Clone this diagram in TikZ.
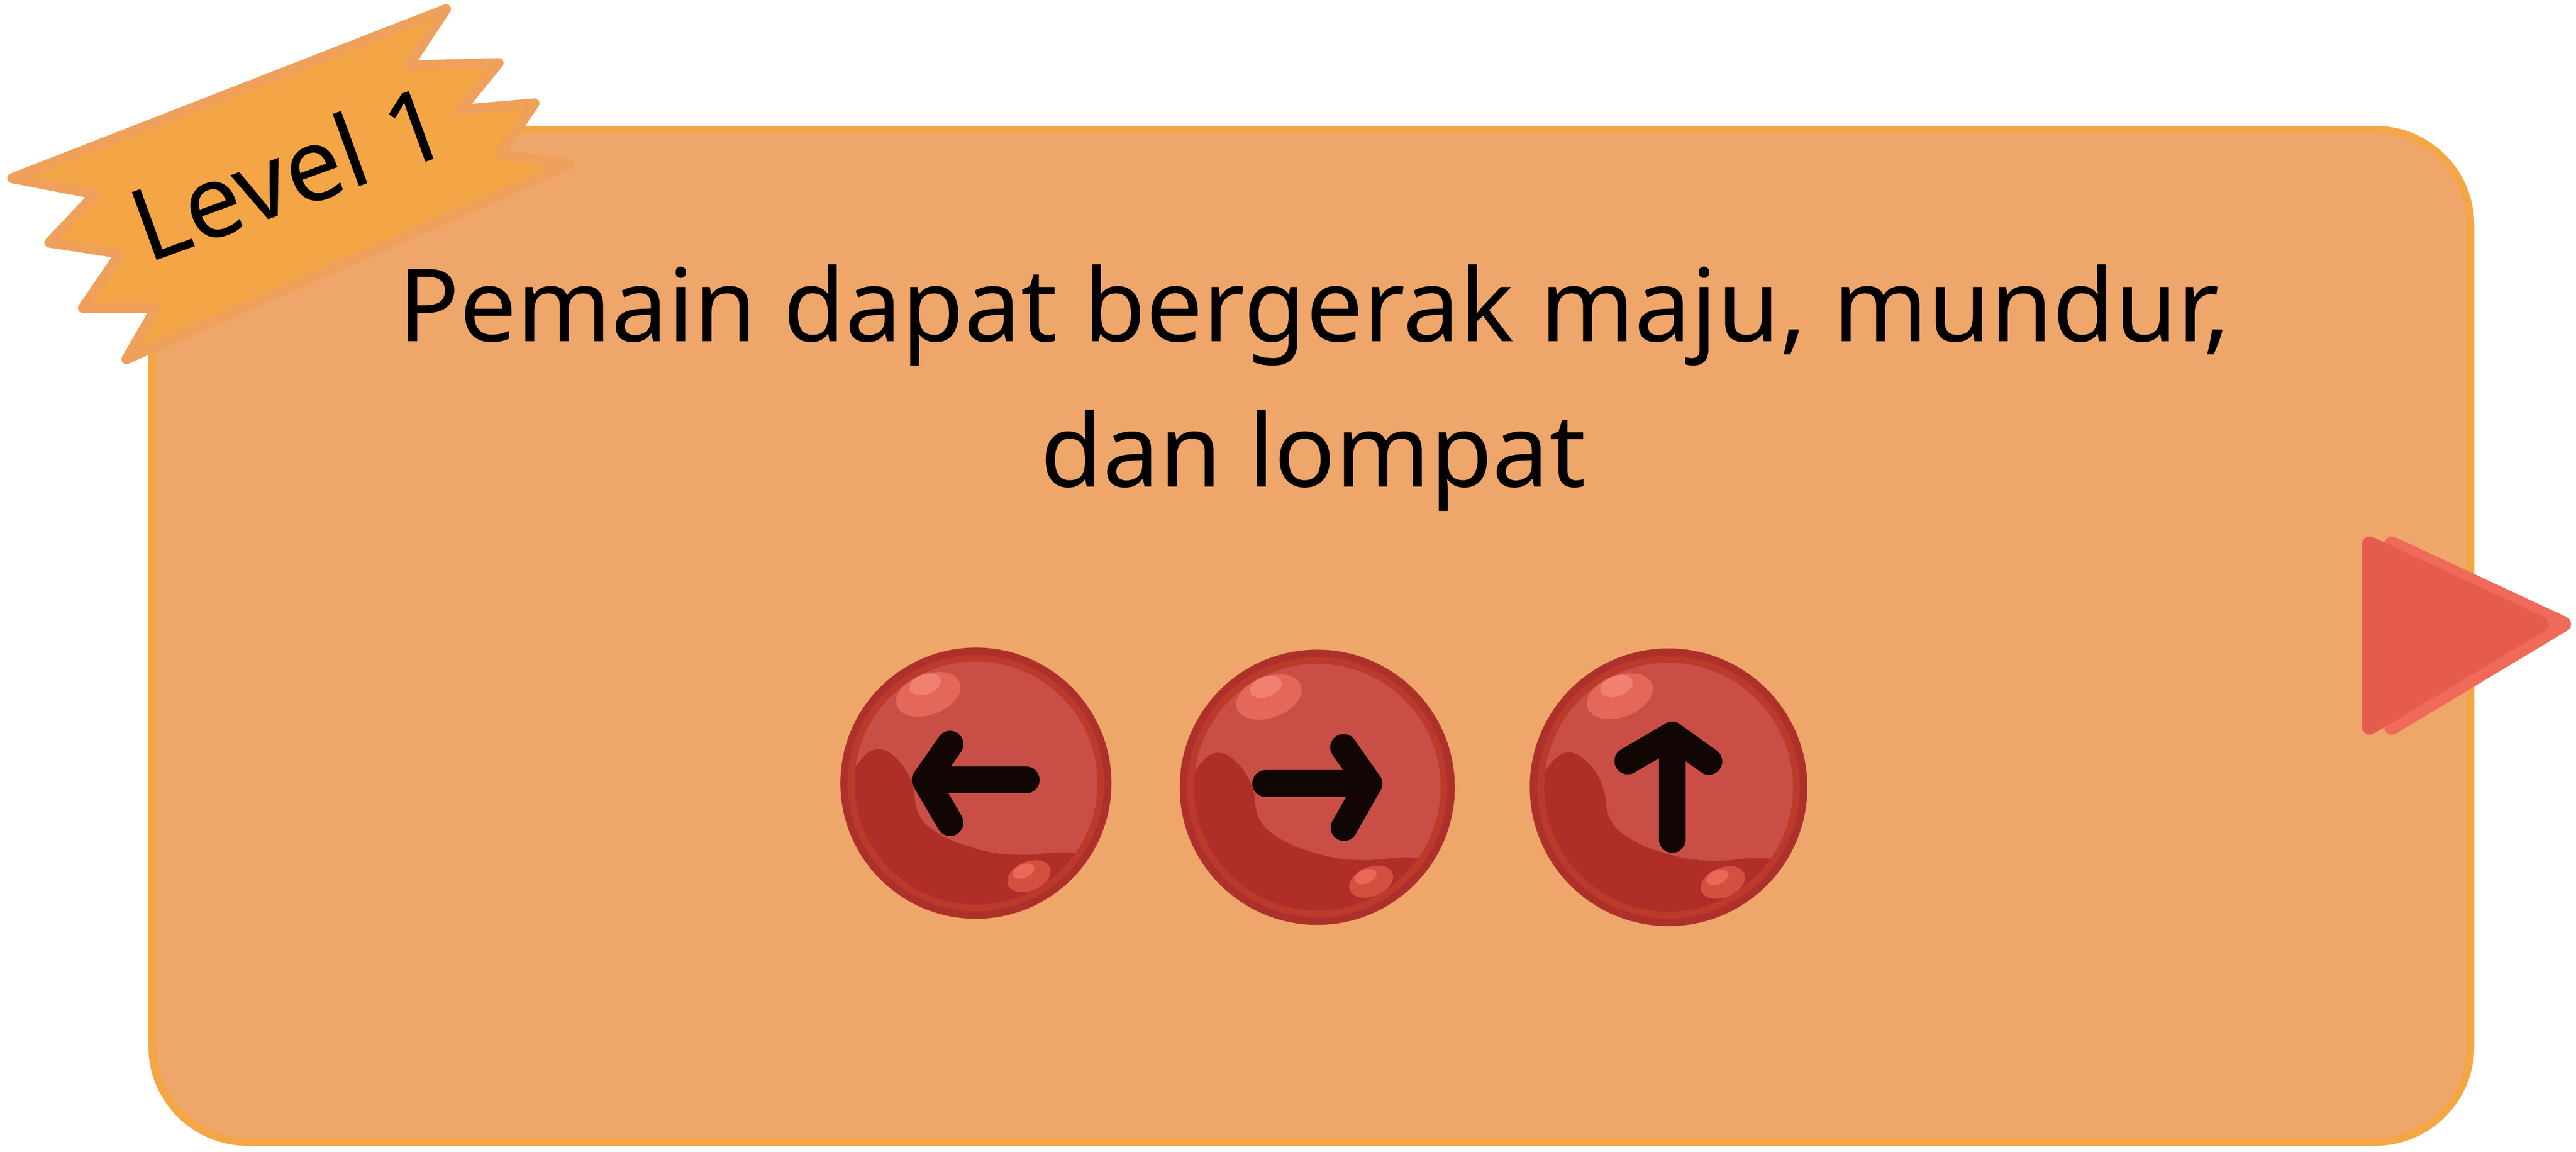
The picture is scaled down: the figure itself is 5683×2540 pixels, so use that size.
\documentclass[tikz,border=0pt]{standalone}
\usepackage{fontspec}
\setmainfont{Noto Sans}
\definecolor{cardfill}{HTML}{EEA66A}
\definecolor{cardline}{HTML}{F4A644}
\definecolor{ribbonfill}{HTML}{F4A646}
\definecolor{ribbonline}{HTML}{EFA05A}
\definecolor{ringout}{HTML}{AD312A}
\definecolor{ringin}{HTML}{BC3A2C}
\definecolor{marbleface}{HTML}{C94F46}
\definecolor{marbledark}{HTML}{AF2E28}
\definecolor{glowa}{HTML}{E3685A}
\definecolor{glowb}{HTML}{F28070}
\definecolor{glowc}{HTML}{D44F40}
\definecolor{glowd}{HTML}{E96858}
\definecolor{arrowink}{HTML}{120605}
\definecolor{playfront}{HTML}{E55C4E}
\definecolor{playback}{HTML}{EF6A58}
\tikzset{
  card/.style={draw=cardline,fill=cardfill,line width=17*0.1mm,rounded corners=21mm},
  ribbon/.style={draw=ribbonline,fill=ribbonfill,line width=22*0.1mm,line join=round},
  arrowmark/.style={draw=arrowink,line width=59*0.1mm,line cap=round,line join=round},
  play/.style={line width=34*0.1mm,line join=round},
  bigtext/.style={anchor=base,font=\fontsize{63.5}{76}\selectfont},
  marble/.pic={
    \fill[ringout] (0,0) circle (299);
    \fill[ringin] (0,0) circle (283);
    \fill[marbleface] (0,0) circle (268);
    \begin{scope}
      \clip (0,0) circle (268);
      \fill[marbledark] (-266,-35) .. controls (-248,-60) and (-235,-75) .. (-214,-75)
        .. controls (-185,-75) and (-150,-30) .. (-143,-4)
        .. controls (-135,15) and (-136,30) .. (-134,41)
        .. controls (-128,85) and (-100,105) .. (-45,130)
        .. controls (0,145) and (40,158) .. (94,158)
        .. controls (140,160) and (170,148) .. (220,154)
        -- (320,154) -- (320,320) -- (-320,320) -- (-320,-35) -- cycle;
      \fill[glowa,rotate around={20:(-105,-196)}] (-105,-196) ellipse (74 and 45);
      \fill[glowb,rotate around={20:(-112,-218)}] (-112,-218) ellipse (36 and 22);
      \fill[glowc,rotate around={22:(117,205)}] (117,205) ellipse (50 and 32);
      \fill[glowd,rotate around={22:(105,194)}] (105,194) ellipse (25 and 15);
    \end{scope}
  }
}
\begin{document}
\begin{tikzpicture}[x=0.1mm,y=-0.1mm]
  \useasboundingbox (0,0) rectangle (5683,2540);

  \draw[card] (336,286) rectangle (5450,2518);

  \draw[ribbon] (984,20) -- (902,144) -- (1100,139) -- (1016,242) -- (1179,228) -- (1103,341)
    -- (1256,362) -- (279,792) -- (344,679) -- (183,679) -- (265,559) -- (109,535)
    -- (210,428) -- (27,393) -- cycle;
  \node[bigtext,rotate=20] (levelname) at (664,458) {Level 1};

  \node[bigtext] (lineone) at (2900,753) {Pemain dapat bergerak maju, mundur,};
  \node[bigtext] (linetwo) at (2897,1073) {dan lompat};

  \pic (btnleft) at (2153,1727) {marble};
  \pic[scale=1.015] (btnright) at (2906,1736) {marble};
  \pic[scale=1.024] (btnup) at (3681,1736) {marble};

  \draw[arrowmark] (2264,1720) -- (2041,1720);
  \draw[arrowmark] (2096,1641) -- (2041,1720) -- (2096,1814);
  \draw[arrowmark] (2792,1728) -- (3020,1728);
  \draw[arrowmark] (2964,1648) -- (3020,1728) -- (2965,1825);
  \draw[arrowmark] (3689,1851) -- (3689,1621);
  \draw[arrowmark] (3591,1678) -- (3689,1621) -- (3770,1679);

  \filldraw[play,draw=playback,fill=playback] (5277,1200) -- (5655,1376) -- (5277,1603) -- cycle;
  \filldraw[play,draw=playfront,fill=playfront] (5228,1200) -- (5606,1376) -- (5228,1603) -- cycle;
\end{tikzpicture}
\end{document}
